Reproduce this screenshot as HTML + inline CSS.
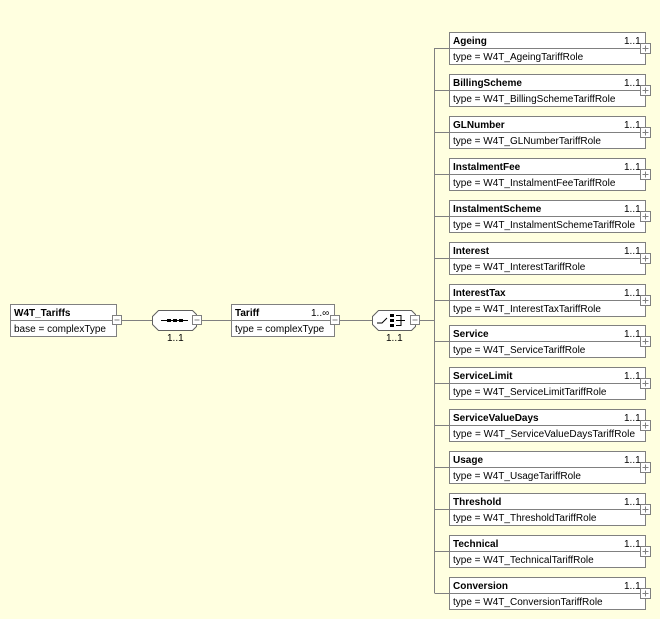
<!DOCTYPE html>
<html><head><style>
html,body{margin:0;padding:0;background:#ffffe0;}
svg{display:block;}
text{font-family:"Liberation Sans",sans-serif;font-size:10px;fill:#000;}
.b{font-weight:bold;}
</style></head><body>
<svg width="660" height="619" viewBox="0 0 660 619" xmlns="http://www.w3.org/2000/svg">
<g stroke="#808080" fill="none" stroke-width="1">
<line x1="121" y1="320.5" x2="152" y2="320.5"/>
<line x1="201" y1="320.5" x2="231" y2="320.5"/>
<line x1="339" y1="320.5" x2="372" y2="320.5"/>
<line x1="420" y1="320.5" x2="434.5" y2="320.5"/>
<line x1="434.5" y1="48" x2="434.5" y2="593"/>
</g>
<rect x="10.5" y="304.5" width="106" height="32" fill="#fff" stroke="#808080"/>
<line x1="10.5" y1="320.5" x2="116.5" y2="320.5" stroke="#808080"/>
<text x="14" y="316" class="b">W4T_Tariffs</text>
<text x="14" y="332">base = complexType</text>
<rect x="112.5" y="315.5" width="9" height="9" fill="#fff" stroke="#808080"/>
<line x1="114.5" y1="320" x2="119.5" y2="320" stroke="#808080"/>
<polygon points="158.5,310.5 192.5,310.5 196.5,314.5 196.5,326.5 192.5,330.5 158.5,330.5 152.5,324.5 152.5,316.5" fill="#fff" stroke="#606060"/>
<line x1="161" y1="320.5" x2="188" y2="320.5" stroke="#000"/>
<rect x="167" y="319" width="4" height="3" fill="#000"/><rect x="173" y="319" width="4" height="3" fill="#000"/><rect x="179" y="319" width="4" height="3" fill="#000"/>
<rect x="192.5" y="315.5" width="9" height="9" fill="#fff" stroke="#808080"/>
<line x1="194.5" y1="320" x2="199.5" y2="320" stroke="#808080"/>
<text x="167" y="341">1..1</text>
<rect x="231.5" y="304.5" width="103" height="32" fill="#fff" stroke="#808080"/>
<line x1="231.5" y1="320.5" x2="334.5" y2="320.5" stroke="#808080"/>
<text x="235" y="316" class="b">Tariff</text>
<text x="311" y="316">1..∞</text>
<text x="235" y="332">type = complexType</text>
<rect x="330.5" y="315.5" width="9" height="9" fill="#fff" stroke="#808080"/>
<line x1="332.5" y1="320" x2="337.5" y2="320" stroke="#808080"/>
<polygon points="378.5,310.5 411.5,310.5 415.5,314.5 415.5,326.5 411.5,330.5 378.5,330.5 372.5,324.5 372.5,316.5" fill="#fff" stroke="#606060"/>
<path d="M377 323 L382 323 L387 318" stroke="#000" fill="none"/>
<rect x="390" y="314" width="4" height="3" fill="#000"/><rect x="390" y="319" width="4" height="3" fill="#000"/><rect x="390" y="324" width="4" height="3" fill="#000"/>
<path d="M396 315.5 L401 315.5 L401 325.5 L396 325.5 M396 320.5 L405 320.5" stroke="#000" fill="none"/>
<rect x="410.5" y="315.5" width="9" height="9" fill="#fff" stroke="#808080"/>
<line x1="412.5" y1="320" x2="417.5" y2="320" stroke="#808080"/>
<text x="386" y="341">1..1</text>
<g id="kids"></g>
</svg>
<script>
var names=[["Ageing","W4T_AgeingTariffRole"],["BillingScheme","W4T_BillingSchemeTariffRole"],["GLNumber","W4T_GLNumberTariffRole"],["InstalmentFee","W4T_InstalmentFeeTariffRole"],["InstalmentScheme","W4T_InstalmentSchemeTariffRole"],["Interest","W4T_InterestTariffRole"],["InterestTax","W4T_InterestTaxTariffRole"],["Service","W4T_ServiceTariffRole"],["ServiceLimit","W4T_ServiceLimitTariffRole"],["ServiceValueDays","W4T_ServiceValueDaysTariffRole"],["Usage","W4T_UsageTariffRole"],["Threshold","W4T_ThresholdTariffRole"],["Technical","W4T_TechnicalTariffRole"],["Conversion","W4T_ConversionTariffRole"]];
var s="";
names.forEach(function(n,i){var y=32+i*41.92;var t=Math.round(y)+0.5;
s+='<line x1="434.5" y1="'+(t+16)+'" x2="449.5" y2="'+(t+16)+'" stroke="#808080"/>';
s+='<rect x="449.5" y="'+t+'" width="196" height="32" fill="#fff" stroke="#808080"/>';
s+='<line x1="449.5" y1="'+(t+16)+'" x2="645.5" y2="'+(t+16)+'" stroke="#808080"/>';
s+='<text x="453" y="'+(t+11.5)+'" class="b">'+n[0]+'</text>';
s+='<text x="624" y="'+(t+11.5)+'">1..1</text>';
s+='<text x="453" y="'+(t+27.5)+'" textLength="'+(n[1].length>28?182:0)+'">type = '+n[1]+'</text>';
s+='<rect x="640.5" y="'+(t+11)+'" width="10" height="10" fill="#fff" stroke="#808080"/>';
s+='<path d="M642.5 '+(t+16)+' L648.5 '+(t+16)+' M645.5 '+(t+13)+' L645.5 '+(t+19)+'" stroke="#808080"/>';
});
document.getElementById("kids").innerHTML=s.replace(/ textLength="0"/g,"");
</script>
</body></html>
